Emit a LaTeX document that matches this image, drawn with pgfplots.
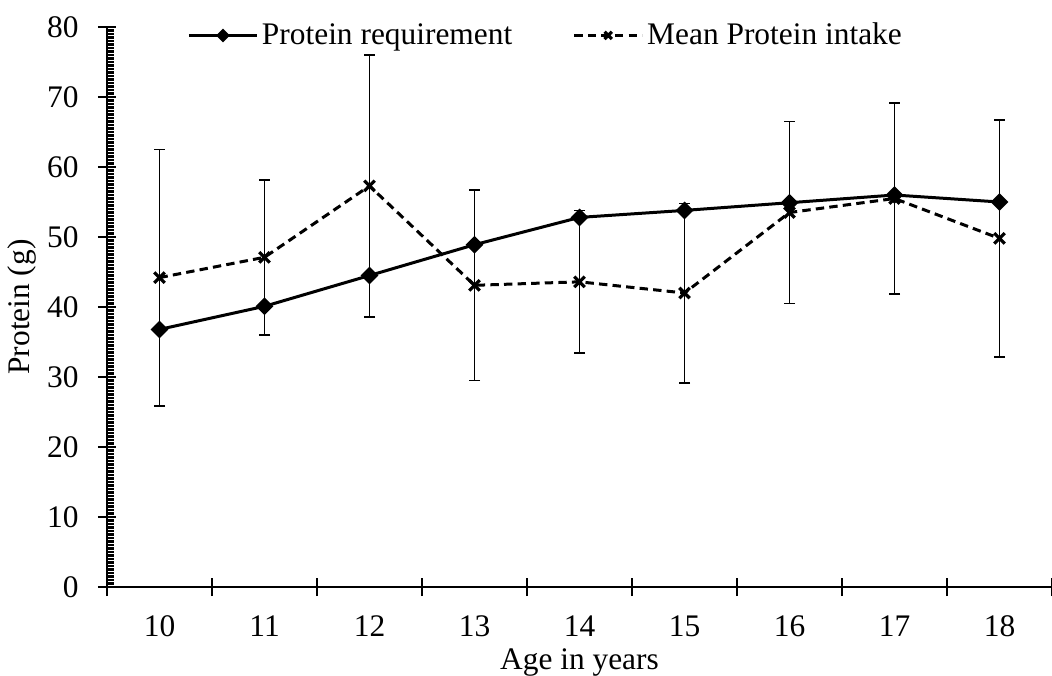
\documentclass[border=0pt]{standalone}
\usepackage{fontspec}
\setmainfont{Liberation Serif}
\usepackage{pgfplots}
\pgfplotsset{compat=1.18}
\begin{document}
\begin{tikzpicture}[font=\fontsize{15.7}{18}\selectfont]
\useasboundingbox (-53.5pt,-44pt) rectangle (472.5pt,293.5pt);
\begin{axis}[
  at={(0pt,0pt)}, anchor=south west,
  scale only axis, width=472.5pt, height=280pt,
  xmin=9.5, xmax=18.5, ymin=0, ymax=80,
  axis lines*=left,
  axis line style={black, line width=1.3pt},
  tick style={black, line width=1.2pt},
  tick align=center,
  major tick length=9pt,
  minor tick length=3.5pt,
  xtick={9.5,10.5,...,18.5},
  xticklabels={10,11,12,13,14,15,16,17,18,{}},
  xticklabel style={anchor=north, inner sep=0pt, yshift=-9.5pt, xshift=26.3pt},
  ytick={0,10,...,80},
  minor y tick num=19,
  every minor y tick/.append style={xshift=1.75pt},
  yticklabel style={anchor=east, inner sep=0pt, xshift=-9.5pt},
  /pgf/number format/assume math mode=true,
  xlabel={Age in years}, ylabel={Protein (g)},
  xlabel style={at={(axis description cs:0.5,-0.148)}, anchor=base},
  ylabel style={at={(axis description cs:-0.09,0.5)}, anchor=center},
  legend columns=2,
  legend style={draw=none, fill=none, at={(axis description cs:0.465,0.985)}, anchor=center,
    nodes={inner xsep=1.75pt, inner ysep=1pt},
    /tikz/every even column/.append style={column sep=28.5pt}},
  legend image code/.code={\draw[mark repeat=2, mark phase=2, #1, every mark/.append style={scale=0.7}] plot coordinates {(0pt,0pt) (17pt,0pt) (34pt,0pt)};},
]
\addplot[black, line width=1.5pt, mark=square*, mark size=2.4pt, mark options={solid, rotate=45}]
  coordinates {(10,36.8) (11,40.1) (12,44.5) (13,48.9) (14,52.8) (15,53.8) (16,54.9) (17,56.0) (18,55.0)};
\addlegendentry{Protein requirement}
\addplot[black, line width=1.5pt, dash pattern=on 4.2pt off 2.6pt, mark=x, mark size=3.7pt,
  mark options={solid, line width=1.6pt},
  error bars/.cd, y dir=both, y explicit,
  error bar style={line width=0.9pt, solid},
  error mark options={rotate=90, mark size=2.75pt, line width=0.9pt, solid}]
  coordinates {
  (10,44.2) +- (0,18.3)
  (11,47.1) +- (0,11.1)
  (12,57.3) +- (0,18.7)
  (13,43.1) +- (0,13.6)
  (14,43.6) +- (0,10.2)
  (15,42.0) +- (0,12.8)
  (16,53.5) +- (0,13.0)
  (17,55.5) +- (0,13.6)
  (18,49.8) +- (0,16.9)
  };
\addlegendentry{Mean Protein intake}
\end{axis}
\end{tikzpicture}
\end{document}
